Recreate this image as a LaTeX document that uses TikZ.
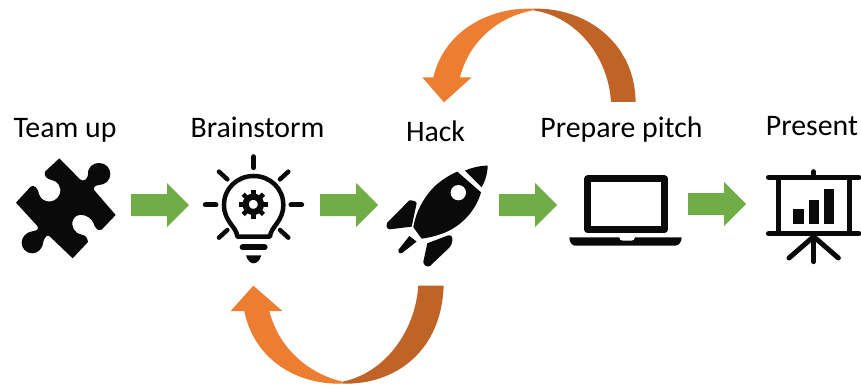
\documentclass[tikz,border=0pt]{standalone}
\usepackage{fontspec}
\setmainfont{Carlito}
\definecolor{agreen}{HTML}{70AD47}
\definecolor{aorange}{HTML}{ED7D31}
\definecolor{adark}{HTML}{BF6426}
\definecolor{iconblack}{HTML}{0A0A0A}
\tikzset{
  lab/.style={anchor=base,inner sep=0pt,font=\fontsize{29.8}{32}\selectfont,text=black},
  greenarrow/.style={fill=agreen,draw=none},
  icon/.style={fill=iconblack,draw=none},
  iconline/.style={draw=iconblack,line cap=round,line join=round},
  cut/.style={fill=white,draw=none}
}
\newcommand{\greenarr}[2]{% tail x, y centre
  \fill[greenarrow,shift={(#1,#2)}] (0,-11) -- (36,-11) -- (36,-22) -- (58,0) -- (36,22) -- (36,11) -- (0,11) -- cycle;}
\begin{document}
\begin{tikzpicture}[x=1pt,y=-1pt]
\useasboundingbox (0,0) rectangle (861,388);
% labels
\node[lab] (team) at (65,137) {Team up};
\node[lab] (brain) at (257.5,137) {Brainstorm};
\node[lab] (hack) at (435.5,141) {Hack};
\node[lab] (pitch) at (621.5,137) {Prepare pitch};
\node[lab] (present) at (812,135) {Present};
% green arrows
\greenarr{131}{205}
\greenarr{320}{205}
\greenarr{499}{205}
\greenarr{688}{204}
% puzzle
\begin{scope}[shift={(0,100)},x=0.3333pt,y=-0.3333pt]
\fill[icon] (178,175) -- (240,238) .. controls (252,246) and (262,238) .. (264,225)
  .. controls (262,200) and (280,189) .. (297,189)
  .. controls (318,189) and (331,205) .. (331,222)
  .. controls (331,242) and (315,254) .. (298,255)
  .. controls (285,256) and (277,262) .. (284,272)
  -- (347,345) -- (305,389)
  .. controls (292,395) and (284,382) .. (280,368)
  .. controls (268,344) and (232,335) .. (220,358)
  .. controls (210,380) and (226,402) .. (245,404)
  .. controls (258,406) and (262,414) .. (264,426)
  -- (218,475) -- (150,410)
  .. controls (142,402) and (135,410) .. (130,425)
  .. controls (128,448) and (112,460) .. (97,460)
  .. controls (78,460) and (65,445) .. (65,428)
  .. controls (65,410) and (80,396) .. (97,394)
  .. controls (110,392) and (118,388) .. (112,378)
  -- (48,308) -- (92,260)
  .. controls (102,252) and (115,265) .. (118,285)
  .. controls (128,310) and (165,312) .. (178,285)
  .. controls (188,262) and (172,242) .. (155,240)
  .. controls (142,238) and (130,228) .. (135,215)
  -- cycle;
\end{scope}
% bulb
\begin{scope}[shift={(0,100)},x=0.3333pt,y=-0.3333pt]
\draw[iconline,line width=5pt] (761,170) -- (761,203);
\draw[iconline,line width=5pt] (616,315) -- (648,315);
\draw[iconline,line width=5pt] (873,315) -- (905,315);
\draw[iconline,line width=4.5pt] (657,215) -- (682,238);
\draw[iconline,line width=4.5pt] (865,215) -- (840,238);
\draw[iconline,line width=4.5pt] (657,413) -- (682,390);
\draw[iconline,line width=4.5pt] (865,413) -- (840,390);
\draw[iconline,line width=4.5pt] (712,410) -- (810,410)
  .. controls (812,380) and (850,365) .. (850,315)
  .. controls (850,265) and (810,228) .. (761,228)
  .. controls (712,228) and (672,265) .. (672,315)
  .. controls (672,365) and (710,380) .. (712,410) -- cycle;
\draw[iconline,line width=6pt] (728,442) -- (794,442);
\fill[icon] (738,466) -- (784,466) .. controls (780,482) and (770,490) .. (761,490) .. controls (752,490) and (742,482) .. (738,466) -- cycle;
% gear
\foreach \a in {0,45,...,315}
  \draw[iconline,line width=4.5pt,line cap=butt,shift={(760,313)}] (\a:24) -- (\a:43);
\draw[iconline,line width=6.2pt] (760,313) circle (23);
\end{scope}
% rocket
\begin{scope}[shift={(370,0)},x=0.3333pt,y=-0.3333pt]
\fill[icon] (285,512) .. controls (305,503) and (330,497) .. (353,497)
  .. controls (353,520) and (345,545) .. (335,562) -- cycle;
\fill[icon] (262,515) -- (333,577)
  .. controls (320,625) and (285,665) .. (245,688)
  .. controls (218,703) and (185,712) .. (155,716)
  -- (130,682)
  .. controls (136,640) and (160,592) .. (195,558)
  .. controls (215,540) and (238,525) .. (262,515) -- cycle;
\fill[white] (265,578) circle (23);
\fill[icon] (118,601) .. controls (128,601) and (138,603) .. (140,610)
  -- (125,680) -- (60,688) .. controls (50,688) and (47,678) .. (52,668) -- cycle;
\fill[icon] (118,708) -- (140,725) -- (95,760) .. controls (88,762) and (83,758) .. (85,750) -- cycle;
\fill[icon] (172,730) -- (235,706) .. controls (244,704) and (248,712) .. (247,722) .. controls (246,732) and (243,738) .. (238,743)
  -- (180,798) .. controls (170,803) and (160,795) .. (160,785) -- cycle;
\end{scope}
% laptop
\begin{scope}[shift={(370,0)},x=0.3333pt,y=-0.3333pt]
\draw[iconline,line width=7pt,line join=round] (654,537) rectangle (883,689);
\fill[icon] (598,712) -- (935,712) .. controls (935,725) and (928,737) .. (915,737) -- (615,737) .. controls (605,737) and (598,725) .. (598,712) -- cycle;
\fill[white] (748,711) -- (795,711) .. controls (795,718) and (790,722) .. (785,722) -- (758,722) .. controls (752,722) and (748,718) .. (748,711) -- cycle;
\end{scope}
% easel
\begin{scope}[shift={(680,130)},x=0.3333pt,y=-0.3333pt]
\draw[iconline,line width=5.5pt] (266,142) -- (536,142);
\draw[iconline,line width=5.5pt] (266,311) -- (536,311);
\draw[iconline,line width=5pt] (401,125) -- (401,142);
\draw[iconline,line width=4.5pt,line cap=butt] (295,142) -- (295,311);
\draw[iconline,line width=4.5pt,line cap=butt] (508,142) -- (508,311);
\fill[icon] (340,237) rectangle (372,282);
\fill[icon] (386,210) rectangle (416,282);
\fill[icon] (432,177) rectangle (462,282);
\draw[iconline,line width=5pt] (401,311) -- (401,395);
\draw[iconline,line width=5pt] (395,325) -- (327,384);
\draw[iconline,line width=5pt] (407,325) -- (475,384);
\end{scope}
% top curved arrow
\begin{scope}[shift={(370,0)},x=0.3333pt,y=-0.3333pt]
\fill[adark] (490,26) .. controls (650,22) and (795,130) .. (797,306) -- (723,306)
  .. controls (715,170) and (620,50) .. (490,31) -- cycle;
\fill[aorange] (490,26) .. controls (355,21) and (222,95) .. (190,232) -- (157,232) -- (222,307) -- (305,232) -- (270,232)
  .. controls (295,130) and (380,50) .. (490,31) -- cycle;
\end{scope}
% bottom curved arrow
\begin{scope}[shift={(210,270)},x=0.3333pt,y=-0.3333pt]
\fill[adark] (398,341) .. controls (560,345) and (695,240) .. (701,47) -- (625,47)
  .. controls (615,190) and (520,310) .. (398,335) -- cycle;
\fill[aorange] (398,341) .. controls (250,345) and (130,260) .. (103,123) -- (62,123) -- (130,47) -- (217,123) -- (178,123)
  .. controls (205,230) and (290,310) .. (398,335) -- cycle;
\end{scope}
\end{tikzpicture}
\end{document}
